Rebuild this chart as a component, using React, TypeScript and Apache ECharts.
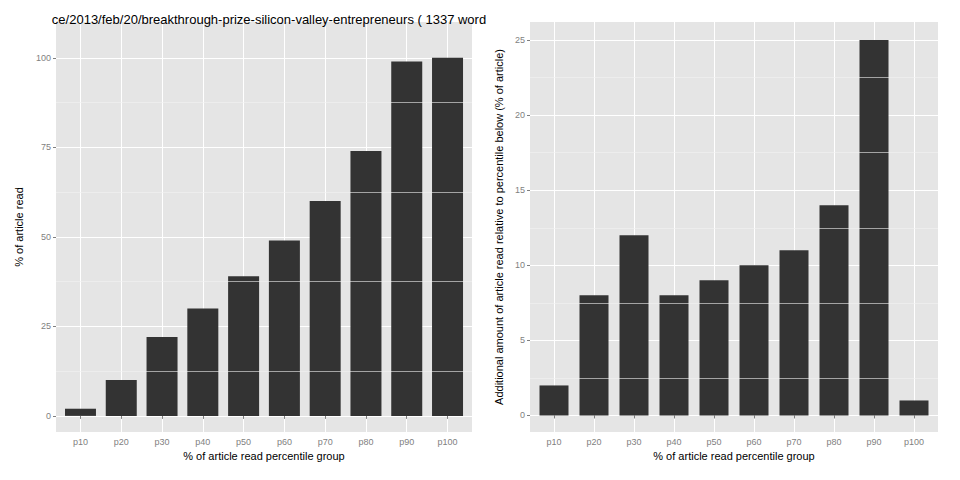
import React, { useEffect, useRef } from "react";
import * as echarts from "echarts";

const groups = ["p10", "p20", "p30", "p40", "p50", "p60", "p70", "p80", "p90", "p100"];
const pctRead = [2, 10, 22, 30, 39, 49, 60, 74, 99, 100];
const additional = [2, 8, 12, 8, 9, 10, 11, 14, 25, 1];
const leftTicks = [0, 25, 50, 75, 100];
const rightTicks = [0, 5, 10, 15, 20, 25];
const titleText = "ce/2013/feb/20/breakthrough-prize-silicon-valley-entrepreneurs ( 1337 word";

const positions = groups.map((_, i) => i + 1);
const font = "Liberation Sans, Arial, sans-serif";

const xAxisOf = (gridIndex: number) => ({
  type: "value" as const,
  gridIndex,
  min: 0.4,
  max: 10.6,
  name: "% of article read percentile group",
  nameLocation: "middle" as const,
  nameGap: 16,
  nameTextStyle: { color: "#000", fontSize: 11, fontFamily: font },
  axisLine: { show: false },
  axisTick: { show: true, customValues: positions, length: 3, lineStyle: { color: "#7F7F7F" } },
  axisLabel: {
    customValues: positions,
    color: "#7F7F7F",
    fontSize: 9,
    fontFamily: font,
    margin: 5,
    formatter: (v: number) => groups[Math.round(v) - 1] ?? "",
  },
  splitLine: { show: true, lineStyle: { color: "#FFFFFF", width: 1 } },
});

const yAxisOf = (gridIndex: number, min: number, max: number, ticks: number[], name: string, minorStep: number) => ({
  type: "value" as const,
  gridIndex,
  min,
  max,
  name,
  nameLocation: "middle" as const,
  nameGap: gridIndex === 0 ? 32 : 26,
  nameTextStyle: { color: "#000", fontSize: 11, fontFamily: font },
  axisLine: { show: false },
  axisTick: { show: true, customValues: ticks, length: 3, lineStyle: { color: "#7F7F7F" } },
  axisLabel: { customValues: ticks, color: "#7F7F7F", fontSize: 9, fontFamily: font, margin: 5 },
  splitLine: { show: true, lineStyle: { color: "#FFFFFF", width: 1 } },
  minorTick: { show: false, splitNumber: 2 },
  minorSplitLine: { show: false },
  _minorStep: minorStep,
});

export default function App() {
  const ref = useRef<HTMLDivElement>(null);

  useEffect(() => {
    const chart = echarts.init(ref.current!, undefined, { renderer: "svg" });
    const leftMinor = [12.5, 37.5, 62.5, 87.5];
    const rightMinor = [2.5, 7.5, 12.5, 17.5, 22.5];
    const minorLine = (data: number[]) => ({
      silent: true,
      symbol: "none",
      label: { show: false },
      lineStyle: { color: "#F2F2F2", width: 0.6, type: "solid" as const },
      data: data.map((v) => ({ yAxis: v })),
    });
    chart.setOption({
      animation: false,
      title: {
        text: titleText,
        left: 256,
        textAlign: "center",
        top: 0,
        textStyle: { color: "#000", fontSize: 13, fontWeight: "normal", fontFamily: font },
      },
      grid: [
        { left: 48, top: 14, width: 416, bottom: 40, backgroundColor: "#E5E5E5", show: true, borderWidth: 0 },
        { left: 522, top: 14, right: 14, bottom: 40, backgroundColor: "#E5E5E5", show: true, borderWidth: 0 },
      ],
      xAxis: [xAxisOf(0), xAxisOf(1)],
      yAxis: [
        yAxisOf(0, -4.5, 110, leftTicks, "% of article read", 12.5),
        yAxisOf(1, -1.1, 26.2, rightTicks, "Additional amount of article read relative to percentile below (% of article)", 2.5),
      ],
      series: [
        {
          type: "bar",
          xAxisIndex: 0,
          yAxisIndex: 0,
          barWidth: 31,
          itemStyle: { color: "#333333" },
          data: pctRead.map((v, i) => [positions[i], v]),
          markLine: minorLine(leftMinor),
          z: 3,
        },
        {
          type: "bar",
          xAxisIndex: 1,
          yAxisIndex: 1,
          barWidth: 29,
          itemStyle: { color: "#333333" },
          data: additional.map((v, i) => [positions[i], v]),
          markLine: minorLine(rightMinor),
          z: 3,
        },
      ],
    });
    return () => chart.dispose();
  }, []);

  return <div ref={ref} style={{ width: 944, height: 464 }} />;
}
